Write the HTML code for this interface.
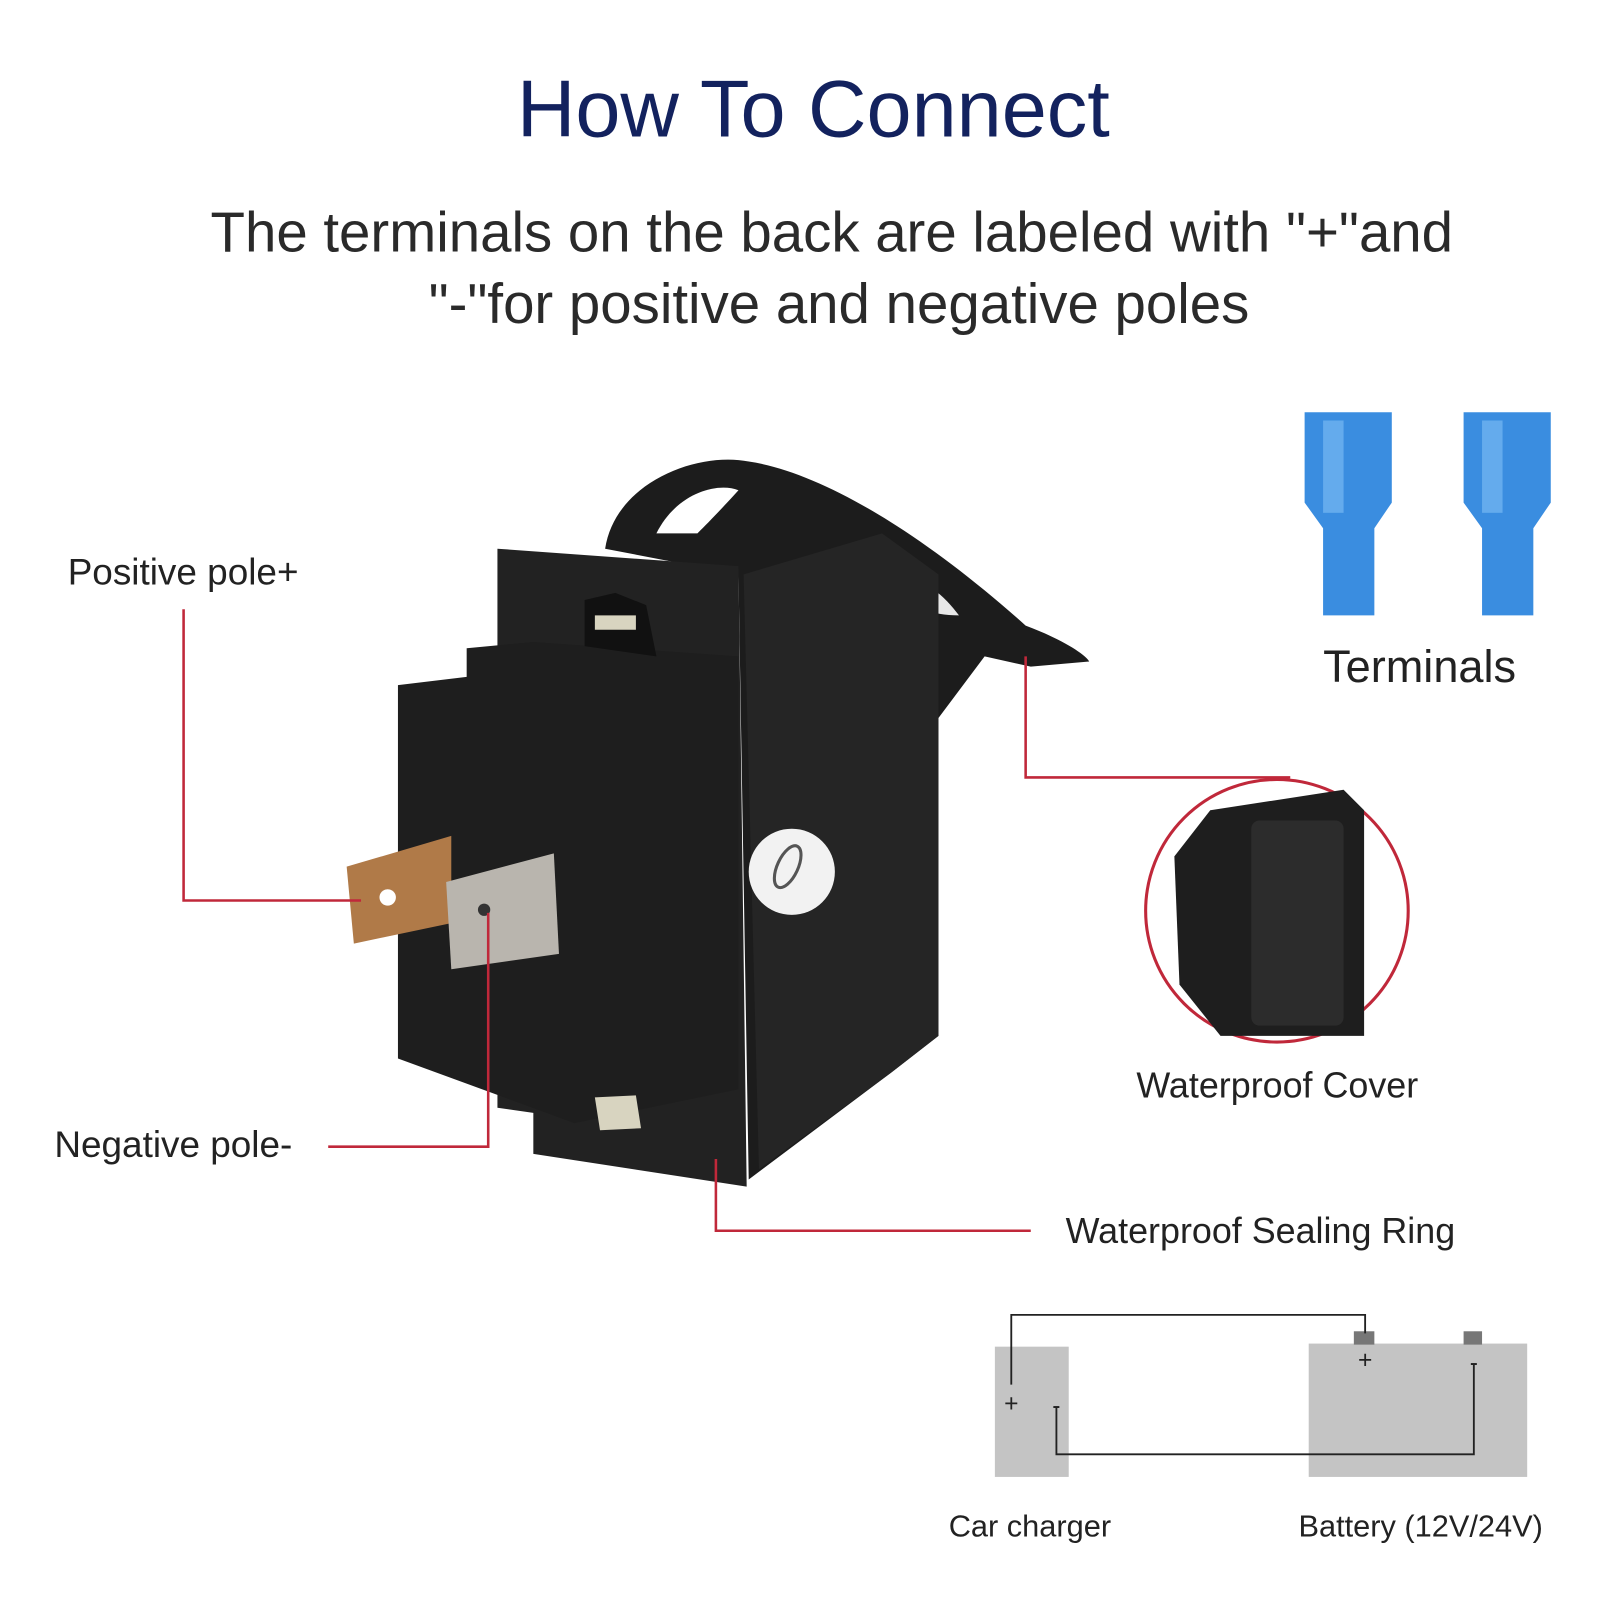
<!DOCTYPE html>
<html><head><meta charset="utf-8"><style>
html,body{margin:0;padding:0;background:#fff;}
svg{display:block;}
text{font-family:"Liberation Sans",Arial,sans-serif;}
</style></head><body>
<svg width="1600" height="1600" viewBox="0 0 1560 1560" xmlns="http://www.w3.org/2000/svg">
<rect width="1560" height="1560" fill="#fff"/>
<text x="793" y="133" font-size="79" fill="#13225e" text-anchor="middle">How To Connect</text>
<text x="811" y="245" font-size="55" fill="#2a2a2a" text-anchor="middle">The terminals on the back are labeled with "+"and</text>
<text x="818" y="315" font-size="55" fill="#2a2a2a" text-anchor="middle">"-"for positive and negative poles</text>

<!-- switch -->
<g>
<path d="M590 535 C600 470 680 440 730 450 C800 460 900 520 1000 610 C1040 625 1060 640 1062 645 L1005 650 L960 640 L915 700 L915 1010 L870 1045 L730 1150 L720 560 Z" fill="#1c1c1c"/>
<path d="M640 520 C660 480 700 470 720 478 C700 500 690 510 680 520 Z" fill="#fff"/>
<path d="M860 560 C900 560 920 580 935 600 C905 600 880 590 860 560 Z" fill="#fff" opacity="0.9"/>
<path d="M725 560 L860 520 L915 560 L915 1010 L870 1045 L740 1140 Z" fill="#252525"/>
<path d="M485 535 L720 552 L728 1157 L520 1125 L520 1085 L485 1080 Z" fill="#222"/>
<path d="M388 668 L455 660 L455 632 L520 626 L720 640 L720 1062 L560 1095 L388 1032 Z" fill="#1e1e1e"/>
<path d="M570 585 L600 578 L630 590 L640 640 L570 630 Z" fill="#111"/>
<rect x="580" y="600" width="40" height="14" fill="#d8d4c0"/>
<path d="M580 1070 L620 1068 L625 1100 L585 1102 Z" fill="#d8d4c0"/>
<circle cx="772" cy="850" r="42" fill="#f2f2f2"/>
<ellipse cx="768" cy="845" rx="10" ry="22" fill="none" stroke="#555" stroke-width="3" transform="rotate(25 768 845)"/>
<path d="M338 845 L440 815 L440 900 L345 920 Z" fill="#b07a48"/>
<circle cx="378" cy="875" r="8" fill="#fff"/>
<path d="M435 860 L540 832 L545 930 L440 945 Z" fill="#b9b5ae"/>
<circle cx="472" cy="887" r="6" fill="#333"/>
</g>

<!-- red leaders -->
<g stroke="#c0283a" stroke-width="2.5" fill="none">
<polyline points="179,594 179,878 352,878"/>
<polyline points="320,1118 476,1118 476,890"/>
<polyline points="1000,640 1000,758 1258,758"/>
<polyline points="698,1130 698,1200 1005,1200"/>
</g>
<circle cx="1245" cy="888" r="128" fill="#fff" stroke="#c0283a" stroke-width="3"/>
<path d="M1180 790 L1310 770 L1330 790 L1330 1010 L1190 1010 L1150 960 L1145 835 Z" fill="#1e1e1e"/>
<rect x="1220" y="800" width="90" height="200" rx="8" fill="#2c2c2c"/>

<text x="66" y="570" font-size="36" fill="#222">Positive pole+</text>
<text x="53" y="1128" font-size="36" fill="#222">Negative pole-</text>
<text x="1290" y="665" font-size="44" fill="#222">Terminals</text>
<text x="1108" y="1070" font-size="35" fill="#222">Waterproof Cover</text>
<text x="1039" y="1212" font-size="35" fill="#222">Waterproof Sealing Ring</text>

<!-- blue terminals -->
<g fill="#3a8de0">
<path d="M1272 402 L1357 402 L1357 490 L1340 515 L1340 600 L1290 600 L1290 515 L1272 490 Z"/>
<path d="M1427 402 L1512 402 L1512 490 L1495 515 L1495 600 L1445 600 L1445 515 L1427 490 Z"/>
</g>
<g fill="#6fb3f0" opacity="0.8">
<rect x="1290" y="410" width="20" height="90"/>
<rect x="1445" y="410" width="20" height="90"/>
</g>

<!-- battery diagram -->
<rect x="970" y="1313" width="72" height="127" fill="#c4c4c4"/>
<rect x="1276" y="1310" width="213" height="130" fill="#c4c4c4"/>
<rect x="1320" y="1298" width="20" height="13" fill="#777"/>
<rect x="1427" y="1298" width="18" height="13" fill="#777"/>
<g stroke="#222" stroke-width="1.8" fill="none">
<polyline points="986,1350 986,1282 1331,1282 1331,1300"/>
<polyline points="1030,1372 1030,1418 1437,1418 1437,1330"/>
</g>
<text x="986" y="1376" font-size="24" fill="#222" text-anchor="middle">+</text>
<text x="1030" y="1378" font-size="24" fill="#222" text-anchor="middle">-</text>
<text x="1331" y="1334" font-size="24" fill="#222" text-anchor="middle">+</text>
<text x="1437" y="1336" font-size="24" fill="#222" text-anchor="middle">-</text>
<text x="925" y="1498" font-size="30" fill="#222">Car charger</text>
<text x="1266" y="1498" font-size="30" fill="#222">Battery (12V/24V)</text>
</svg>
</body></html>
